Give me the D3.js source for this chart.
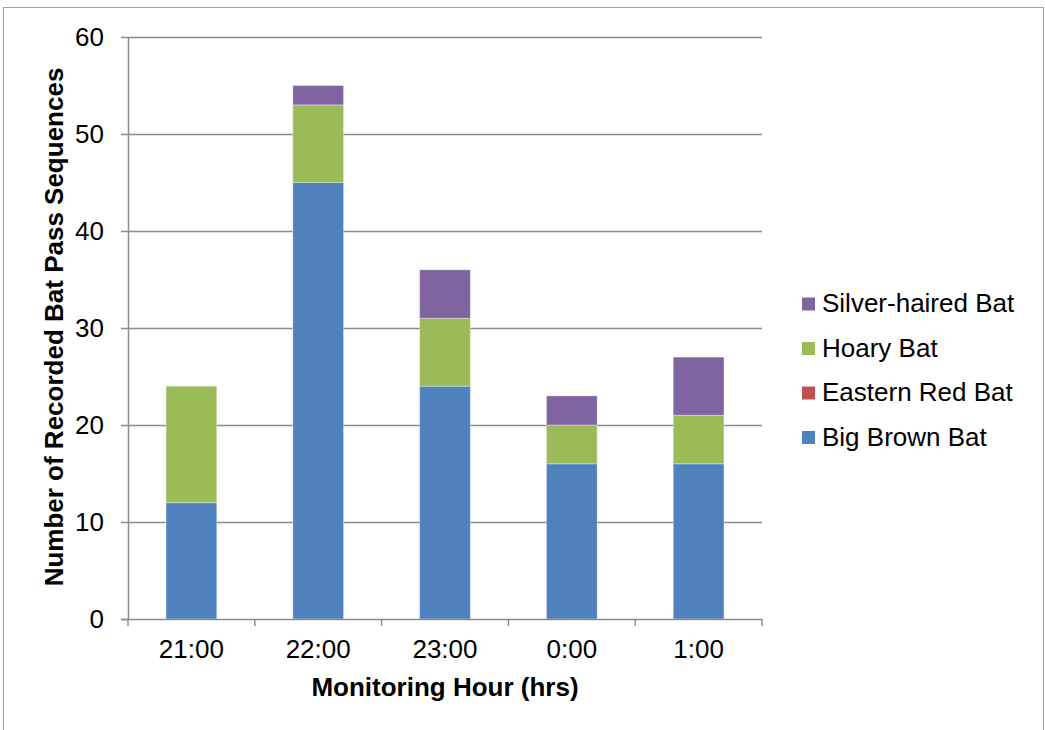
<!DOCTYPE html>
<html><head><meta charset="utf-8">
<script src="https://cdn.jsdelivr.net/npm/d3@7"></script>
<style>body{margin:0;background:#fff;}svg{display:block;font-family:"Liberation Sans",Arial,sans-serif;}</style>
</head><body>
<script>
const categories = ["21:00","22:00","23:00","0:00","1:00"];
const seriesNames = ["Big Brown Bat","Eastern Red Bat","Hoary Bat","Silver-haired Bat"];
const bigBrown = [12,45,24,16,16];
const easternRed = [0,0,0,0,0];
const hoary = [12,8,7,4,5];
const silverHaired = [0,2,5,3,6];
const colors = ["#4F81BD","#C0504D","#9BBB59","#8064A2"];
const yTicks = [0,10,20,30,40,50,60];

const W=1045,H=730;
const FS=26;
const svg=d3.select("body").append("svg").attr("width",W).attr("height",H);
svg.append("rect").attr("x",3.5).attr("y",7.5).attr("width",1040).attr("height",740)
  .attr("fill","#fff").attr("stroke","#a0a0a0").attr("stroke-width",1);

const L=128,R=762,T=37,B=619;
const x=d3.scaleBand().domain(categories).range([L,R]).paddingInner(0.6).paddingOuter(0.3);
const y=d3.scaleLinear().domain([0,60]).range([B,T]);

const rows=categories.map((c,i)=>({cat:c,"Big Brown Bat":bigBrown[i],"Eastern Red Bat":easternRed[i],"Hoary Bat":hoary[i],"Silver-haired Bat":silverHaired[i]}));
const stacked=d3.stack().keys(seriesNames)(rows);

// gridlines
svg.append("g").selectAll("line").data(yTicks.filter(d=>d>0)).join("line")
  .attr("x1",L).attr("x2",R).attr("y1",d=>Math.round(y(d))+0.5).attr("y2",d=>Math.round(y(d))+0.5)
  .attr("stroke","#8c8c8c").attr("stroke-width",1.5);

// bars
stacked.forEach((s,k)=>{
  svg.append("g").selectAll("rect").data(s).join("rect")
    .attr("x",d=>x(d.data.cat)).attr("width",x.bandwidth())
    .attr("y",d=>y(d[1])).attr("height",d=>y(d[0])-y(d[1]))
    .attr("fill",colors[k]).attr("stroke",d=>(d[1]-d[0])>0?"rgba(255,255,255,0.35)":"none").attr("stroke-width",1);
});

// y axis
const ya=svg.append("g").attr("transform",`translate(${L},0)`)
  .call(d3.axisLeft(y).tickValues(yTicks).tickSize(7).tickPadding(17));
ya.select(".domain").attr("stroke","#8c8c8c").attr("stroke-width",1.5).attr("d",`M0.5,${T}V${B}`);
ya.selectAll(".tick line").attr("stroke","#8c8c8c").attr("stroke-width",1.5);
ya.selectAll(".tick text").attr("font-size",FS).attr("fill","#000").attr("font-family","Liberation Sans, Arial, sans-serif");

// x axis
const xg=svg.append("g");
xg.append("line").attr("x1",L-7).attr("x2",R).attr("y1",B+0.5).attr("y2",B+0.5).attr("stroke","#8c8c8c").attr("stroke-width",1.5);
const bounds=d3.range(categories.length+1).map(i=>L+(R-L)*i/categories.length);
xg.selectAll("line.t").data(bounds).join("line").attr("class","t")
  .attr("x1",d=>d).attr("x2",d=>d).attr("y1",B).attr("y2",B+7).attr("stroke","#8c8c8c").attr("stroke-width",1.5);
xg.selectAll("text").data(categories).join("text")
  .attr("x",d=>x(d)+x.bandwidth()/2).attr("y",658).attr("text-anchor","middle")
  .attr("font-size",FS).attr("fill","#000").text(d=>d);

// axis titles
svg.append("text").attr("x",(L+R)/2).attr("y",696).attr("text-anchor","middle")
  .attr("font-size",FS).attr("font-weight","bold").text("Monitoring Hour (hrs)");
svg.append("text").attr("transform",`translate(63,327) rotate(-90)`).attr("text-anchor","middle")
  .attr("font-size",FS).attr("font-weight","bold").text("Number of Recorded Bat Pass Sequences");

// legend
const legendOrder=[3,2,1,0];
const lg=svg.append("g");
legendOrder.forEach((k,i)=>{
  const by=312+i*44.5;
  lg.append("rect").attr("x",802).attr("y",by-14.5).attr("width",13).attr("height",13).attr("fill",colors[k]);
  lg.append("text").attr("x",822).attr("y",by).attr("font-size",FS).text(seriesNames[k]);
});
</script>
</body></html>
